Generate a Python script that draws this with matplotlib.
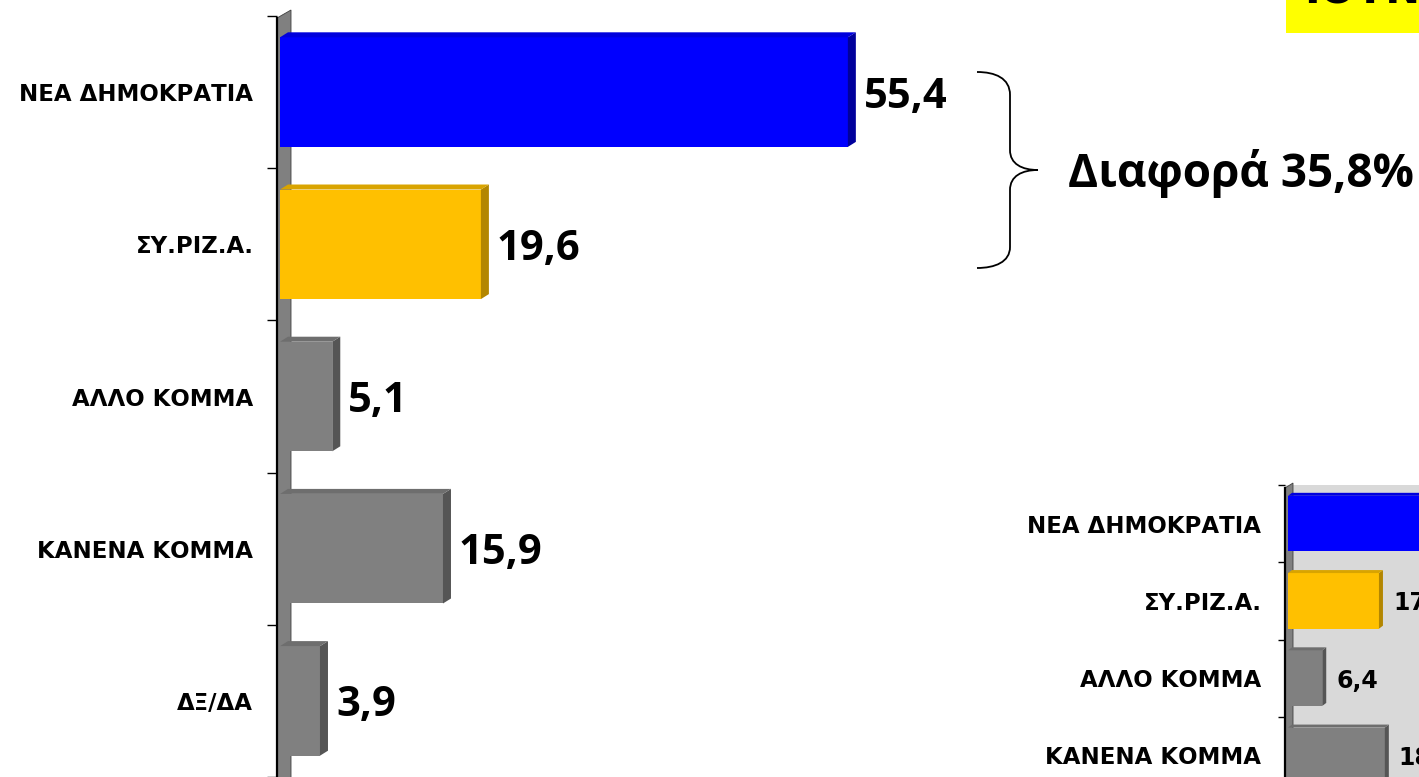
import matplotlib.pyplot as plt
from matplotlib.patches import Polygon, Rectangle, PathPatch
from matplotlib.path import Path
from matplotlib.lines import Line2D
from matplotlib.transforms import offset_copy

# Δεδομένα
categories = ["ΝΕΑ ΔΗΜΟΚΡΑΤΙΑ", "ΣΥ.ΡΙΖ.Α.", "ΑΛΛΟ ΚΟΜΜΑ", "ΚΑΝΕΝΑ ΚΟΜΜΑ", "ΔΞ/ΔΑ"]
values_main = [55.4, 19.6, 5.1, 15.9, 3.9]
categories_prev = ["ΝΕΑ ΔΗΜΟΚΡΑΤΙΑ", "ΣΥ.ΡΙΖ.Α.", "ΑΛΛΟ ΚΟΜΜΑ", "ΚΑΝΕΝΑ ΚΟΜΜΑ"]
values_prev = [49.5, 17.0, 6.4, 18.1]
diff_text = "Διαφορά 35,8%"
title_text = "ΙΟΥΝΙΟΣ"

# (μπροστά, πλάι, πάνω)
BLUE = ("#0000FF", "#00009C", "#0000DD")
YELLOW = ("#FFC000", "#B38600", "#D9A400")
GRAY = ("#808080", "#555555", "#6E6E6E")
colors_main = [BLUE, YELLOW, GRAY, GRAY, GRAY]
colors_prev = [BLUE, YELLOW, GRAY, GRAY]

BIG_FONT = ["Open Sans", "DejaVu Sans"]

W, H = 1419, 777
fig = plt.figure(figsize=(W / 100, H / 100), dpi=100)


def fx(x):
    return x / W


def fy(y):
    return 1 - y / H


def draw_chart(ax, cats, vals, cols, unit_px, cat_px, depth, gap, lab_size, lab_pad,
               val_font, val_size, tick_len):
    h = 0.72
    dx = depth[0] / unit_px
    dy = depth[1] / cat_px
    pos = list(range(len(cats)))
    ax.barh(pos, vals, height=h, color=[c[0] for c in cols], zorder=3)
    for i, v in enumerate(vals):
        y0, y1 = i - h / 2, i + h / 2
        ax.add_patch(Polygon([(v, y0), (v + dx, y0 - dy), (v + dx, y1 - dy), (v, y1)],
                             color=cols[i][1], zorder=3, lw=0))
        ax.add_patch(Polygon([(0, y0), (dx, y0 - dy), (v + dx, y0 - dy), (v, y0)],
                             color=cols[i][2], zorder=3, lw=0))
        tr = offset_copy(ax.transData, fig=ax.figure, x=depth[0] + gap, y=0, units="dots")
        ax.text(v, i, f"{v:.1f}".replace(".", ","), transform=tr, ha="left",
                va="center_baseline", fontsize=val_size, fontweight="bold",
                family=val_font, color="black", clip_on=False)
    ax.set_ylim(len(cats) - 0.5, -0.5)
    ax.set_yticks(pos, cats)
    ax.set_yticks([p - 0.5 for p in pos] + [len(cats) - 0.5], minor=True)
    ax.tick_params(axis="y", which="major", length=0, pad=lab_pad)
    ax.tick_params(axis="y", which="minor", length=tick_len, width=1, color="black")
    for t in ax.get_yticklabels():
        t.set_fontweight("bold")
        t.set_fontsize(lab_size)
        t.set_family("DejaVu Sans")
    ax.set_xticks([])
    for s in ax.spines.values():
        s.set_visible(False)


def draw_wall(ax, x0, x1, ytop_l, ytop_r, ybot):
    ax.add_patch(Polygon([(fx(x0), fy(ytop_l)), (fx(x1), fy(ytop_r)), (fx(x1), fy(ybot)),
                          (fx(x0), fy(ybot))], closed=True, facecolor="#808080",
                         edgecolor="#404040", lw=0.6, transform=fig.transFigure,
                         clip_on=False, zorder=1))
    ax.add_line(Line2D([fx(x0), fx(x0)], [fy(ytop_l), fy(ybot)], color="black", lw=1.6,
                       transform=fig.transFigure, clip_on=False, zorder=1.5))


# Κύριο γράφημα
unit = 10.25
ax = fig.add_axes([fx(277), fy(777), (980 - 277) / W, (777 - 16) / H])
ax.set_facecolor("none")
ax.set_xlim(-3 / unit, (980 - 277 - 3) / unit)
draw_chart(ax, categories, values_main, colors_main, unit, 152.2, (8, 5), 8,
           16.5, 17, BIG_FONT, 30, 7)
draw_wall(ax, 277, 291, 18, 10, 790)

# Δεύτερο (προηγούμενο) γράφημα
unit2 = 5.35
ax2 = fig.add_axes([fx(1285), fy(794), 400 / W, (794 - 485) / H])
ax2.set_facecolor("#D9D9D9")
ax2.set_xlim(-3 / unit2, (400 - 3) / unit2)
draw_chart(ax2, categories_prev, values_prev, colors_prev, unit2, 77.3, (4, 3), 10,
           16.5, 17, "DejaVu Sans", 17, 5)
draw_wall(ax2, 1285, 1293, 488, 483, 800)

# Άγκιστρο διαφοράς
verts = [(977, 72), (995, 72), (1010, 78), (1010, 95),
         (1010, 150),
         (1010, 164), (1022, 170), (1038, 170),
         (1022, 170), (1010, 176), (1010, 190),
         (1010, 247),
         (1010, 262), (995, 268), (977, 268)]
codes = [Path.MOVETO, Path.CURVE4, Path.CURVE4, Path.CURVE4,
         Path.LINETO,
         Path.CURVE4, Path.CURVE4, Path.CURVE4,
         Path.CURVE4, Path.CURVE4, Path.CURVE4,
         Path.LINETO,
         Path.CURVE4, Path.CURVE4, Path.CURVE4]
brace = Path([(fx(x), fy(y)) for x, y in verts], codes)
fig.patches.append(PathPatch(brace, facecolor="none", edgecolor="black", lw=1.3,
                             transform=fig.transFigure))
fig.text(fx(1068), fy(187), diff_text, ha="left", va="baseline", fontsize=33,
         fontweight="bold", family=BIG_FONT, color="black")

# Κίτρινο πλαίσιο τίτλου (κομμένο)
fig.patches.append(Rectangle((fx(1286), fy(33)), (W - 1286) / W, 33 / H,
                             facecolor="#FFFF00", edgecolor="none",
                             transform=fig.transFigure))
fig.text(fx(1304), fy(3.5), title_text, ha="left", va="baseline", fontsize=30,
         fontweight="bold", family="DejaVu Sans", color="black")

fig.savefig("out.png", dpi=100, facecolor="white")
